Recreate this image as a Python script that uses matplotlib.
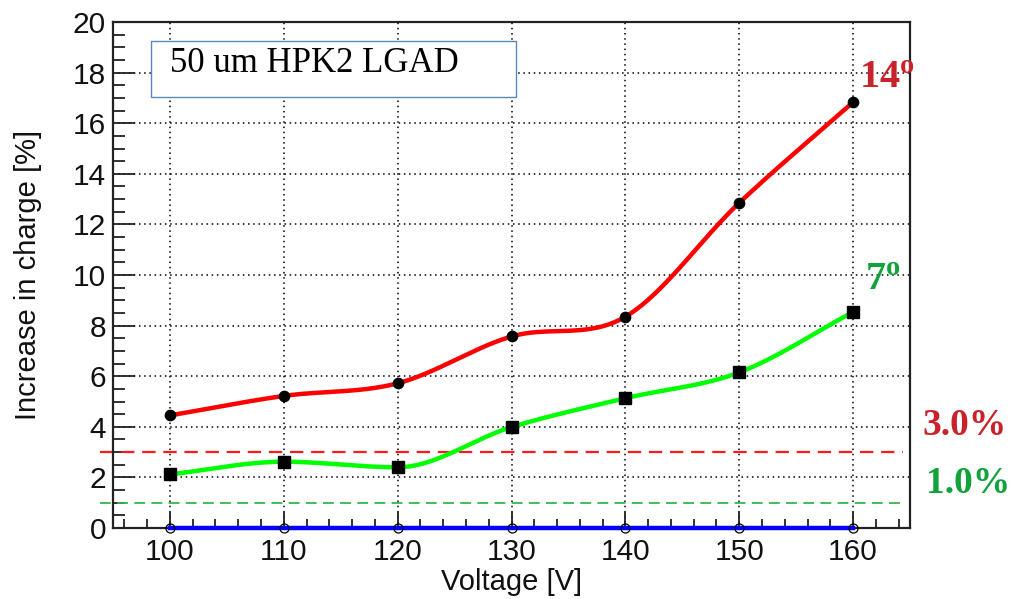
import numpy as np
import matplotlib
matplotlib.use("Agg")
import matplotlib.pyplot as plt
from matplotlib.patches import Rectangle
from matplotlib.ticker import MultipleLocator

# Bias voltage scan and relative charge increase per tilt angle
voltage = [100, 110, 120, 130, 140, 150, 160]
increase_14deg = [4.45, 5.22, 5.72, 7.57, 8.35, 12.85, 16.83]
increase_7deg = [2.12, 2.62, 2.40, 3.99, 5.13, 6.15, 8.54]
increase_0deg = [0, 0, 0, 0, 0, 0, 0]

threshold_14deg = 3.0
threshold_7deg = 1.0

title_box_text = "50 um HPK2 LGAD"
label_14 = "14"
label_7 = "7"
label_thr14 = "3.0%"
label_thr7 = "1.0%"

W, H = 1011, 599
fig = plt.figure(figsize=(W / 100, H / 100), dpi=100)
ax = fig.add_axes([113 / W, 1 - 528 / H, (910 - 113) / W, (528 - 22) / H])

plt.rcParams["mathtext.fontset"] = "custom"
plt.rcParams["mathtext.bf"] = "Liberation Serif:bold"
plt.rcParams["mathtext.rm"] = "Liberation Serif"


def smooth_curve(x, y, n=40):
    """Smooth Hermite line through the points; flat tangent at local extrema."""
    x = np.asarray(x, float)
    y = np.asarray(y, float)
    m = np.empty_like(y)
    m[1:-1] = (y[2:] - y[:-2]) / (x[2:] - x[:-2])
    d = np.diff(y)
    extrema = d[:-1] * d[1:] <= 0
    m[1:-1][extrema] = 0.0
    m[0] = (y[1] - y[0]) / (x[1] - x[0])
    m[-1] = (y[-1] - y[-2]) / (x[-1] - x[-2])
    xs, ys = [], []
    for i in range(len(x) - 1):
        h = x[i + 1] - x[i]
        t = np.linspace(0, 1, n, endpoint=(i == len(x) - 2))
        h00 = 2 * t**3 - 3 * t**2 + 1
        h10 = t**3 - 2 * t**2 + t
        h01 = -2 * t**3 + 3 * t**2
        h11 = t**3 - t**2
        xs.append(x[i] + t * h)
        ys.append(h00 * y[i] + h10 * h * m[i] + h01 * y[i + 1] + h11 * h * m[i + 1])
    return np.concatenate(xs), np.concatenate(ys)


ax.set_xlim(95, 165)
ax.set_ylim(0, 20)

# grid
grid_kw = dict(color="black", lw=1.1, ls=(0, (1, 2.4)), zorder=1)
for gx in range(100, 161, 10):
    ax.axvline(gx, **grid_kw)
for gy in range(2, 20, 2):
    ax.axhline(gy, **grid_kw)

# threshold lines (they start a little left of the frame)
ax.plot([93.85, 164.4], [threshold_14deg] * 2, color="#ff1a1a", lw=1.6,
        ls=(0, (6, 3.5)), zorder=2, clip_on=False)
ax.plot([93.85, 164.2], [threshold_7deg] * 2, color="#33b84f", lw=1.3,
        ls=(0, (6, 3.5)), zorder=2, clip_on=False)

# curves
sx, sy = smooth_curve(voltage, increase_14deg)
ax.plot(sx, sy, color="#ff0000", lw=3.2, zorder=3, solid_capstyle="butt")
sx, sy = smooth_curve(voltage, increase_7deg)
ax.plot(sx, sy, color="#00ff00", lw=3.2, zorder=3, solid_capstyle="butt")
ax.plot(voltage, increase_0deg, color="#0000ff", lw=3.2, zorder=3,
        clip_on=False)

ax.plot(voltage, increase_14deg, ls="none", marker="o", ms=7.4,
        color="black", zorder=4)
ax.plot(voltage, increase_7deg, ls="none", marker="s", ms=8.0,
        color="black", zorder=4)
ax.plot(voltage, increase_0deg, ls="none", marker="o", ms=6.5,
        mfc="none", mec="black", mew=0.9, zorder=5, clip_on=False)

# axes styling
for s in ax.spines.values():
    s.set_linewidth(1.6)
    s.set_color("#222222")
ax.xaxis.set_major_locator(MultipleLocator(10))
ax.xaxis.set_minor_locator(MultipleLocator(2))
ax.yaxis.set_major_locator(MultipleLocator(2))
ax.yaxis.set_minor_locator(MultipleLocator(0.5))
ax.tick_params(axis="both", which="both", direction="in", color="#222222",
               width=1.3, labelsize=21.5, labelcolor="#111111")
ax.tick_params(axis="y", which="major", length=16, pad=5)
ax.tick_params(axis="y", which="minor", length=8.5)
ax.tick_params(axis="x", which="major", length=11.5, pad=7)
ax.tick_params(axis="x", which="minor", length=6.5)
for lbl in ax.get_xticklabels() + ax.get_yticklabels():
    lbl.set_fontfamily("Liberation Sans")

ax.set_xlabel("Voltage [V]", fontsize=21, family="Liberation Sans",
              color="#111111", labelpad=2)
ax.set_ylabel("Increase in charge [%]", fontsize=21, family="Liberation Sans",
              color="#111111", labelpad=22)

# title box
fig.patches.append(Rectangle((151 / W, 1 - 97 / H), 365 / W, 56 / H,
                             transform=fig.transFigure, facecolor="white",
                             edgecolor="#5b86c0", lw=1.0, zorder=10))
fig.text(170 / W, 1 - 64 / H, title_box_text, family="Liberation Serif",
         fontsize=25, va="center", ha="left", color="black", zorder=11)

# angle and threshold labels
red_lbl = "#c8232b"
green_lbl = "#12a23c"
fig.text(859 / W, 1 - 88 / H, r"$\mathbf{%s^{o}}$" % label_14, fontsize=29,
         color=red_lbl, va="baseline", ha="left")
fig.text(865 / W, 1 - 290 / H, r"$\mathbf{%s^{o}}$" % label_7, fontsize=29,
         color=green_lbl, va="baseline", ha="left")
fig.text(922 / W, 1 - 435 / H, label_thr14, family="Liberation Serif",
         weight="bold", fontsize=27, color=red_lbl, va="baseline", ha="left")
fig.text(926 / W, 1 - 493 / H, label_thr7, family="Liberation Serif",
         weight="bold", fontsize=27, color=green_lbl, va="baseline", ha="left")

fig.savefig("out.png", dpi=100)
